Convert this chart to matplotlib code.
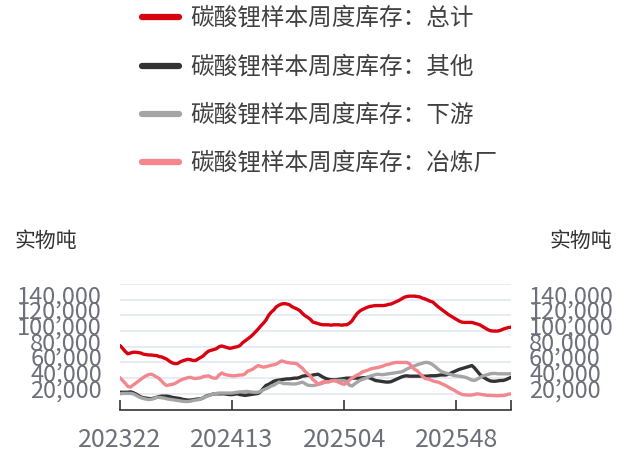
import matplotlib
matplotlib.use("Agg")
import matplotlib.pyplot as plt
import matplotlib.transforms as mtransforms
from matplotlib.lines import Line2D
import numpy as np

plt.rcParams['font.family'] = ['Noto Sans CJK SC', 'DejaVu Sans']

# ---------------- data (thousand tonnes -> tonnes) ----------------
series_names = ["碳酸锂样本周度库存：总计", "碳酸锂样本周度库存：其他",
                "碳酸锂样本周度库存：下游", "碳酸锂样本周度库存：冶炼厂"]
series_colors = ["#D9000F", "#333333", "#A5A5A5", "#F4878E"]

total = [81.5, 78, 74, 71, 72, 73, 73, 72.5, 72, 70.5, 70, 69.5, 69.5, 69, 68.8, 67.5, 67, 65.5, 64, 61.5,
         59.5, 58.5, 58.5, 60.5, 62, 63, 64, 63.5, 62.5, 62.5, 64.5, 66.5, 68.5, 72, 74.5, 75.5, 76.5, 77.5, 80, 81,
         80, 79, 78, 78.5, 79.5, 80, 81.5, 85, 87.5, 90, 92.5, 95.5, 99, 102.5, 106.5, 110, 114, 120, 124, 127,
         131, 133, 134.5, 135, 134.5, 133.5, 131, 129.5, 128, 126, 122.5, 119.5, 117.5, 115, 111.5, 110.5, 109.5, 108.5, 108, 108,
         108, 107.5, 108, 108, 108, 107.5, 108, 108, 110, 113, 118, 122.5, 125.5, 127.5, 129, 130.5, 131.5, 132, 132.5, 132.5,
         132.5, 132.5, 133, 134, 134.5, 136, 137.5, 139, 141, 143, 144, 144.5, 144.5, 144.5, 144, 143.5, 142, 141, 139.5, 138,
         137, 134, 131, 128.5, 126, 123.5, 121, 119, 117, 115, 113, 111.5, 111, 111, 111, 111, 110, 109, 108, 106,
         104, 102, 100.6, 100, 100, 100, 101, 102.5, 103.5, 104.5, 105]

other = [22, 22, 22, 22, 22.5, 21.5, 20, 18, 16, 15, 14.5, 14, 13.8, 14.5, 15.5, 16.5, 17, 17, 17, 16.5,
         15.5, 15, 14.5, 14, 13, 12.5, 12, 12, 12.5, 13, 13.5, 13.6, 15, 17, 18, 19, 20, 20, 20, 20,
         20, 19.5, 19, 19, 19.5, 20, 19, 18.5, 18, 18.5, 19, 19.5, 20, 20.5, 23, 27, 30.6, 32, 34, 36,
         37, 37.5, 38, 38.5, 39, 39, 39.5, 40, 40, 41, 42.5, 43, 43.5, 43, 44, 44.5, 45, 43, 41, 39.5,
         38.5, 38, 38, 38, 38.5, 39, 39.5, 40, 40, 40, 40, 40, 40, 40.5, 40.5, 41, 40, 38.5, 37, 36.5,
         36, 35.5, 35, 35, 35.5, 37, 38.5, 40, 41.5, 42.5, 43, 42.5, 42.5, 42.5, 42.5, 42.5, 42.5, 42.5, 42.5, 43,
         43, 43, 43.5, 44, 44, 44, 45, 46.5, 48, 49.5, 51, 52, 53, 54, 55, 56, 53, 49, 45, 42,
         40, 38, 36.5, 36, 36, 36.5, 37, 37, 38, 39.5, 41]

downstream = [20, 20.5, 20.5, 20.5, 20.5, 20, 18.5, 16.5, 15, 14, 13.2, 12.7, 13, 14, 15.5, 15.5, 15, 14.5, 13.6, 13,
              12.5, 12, 11.5, 11, 10.5, 10.2, 10.2, 10.5, 11.5, 12, 12.5, 13.5, 15, 16.5, 17.5, 19, 20, 20.5, 21, 21,
              21, 21, 21, 21, 21.5, 22, 22.5, 22.5, 23, 23, 22.5, 22, 22, 22, 23.5, 25, 26.5, 28, 30, 31,
              33, 35, 34, 33, 33, 32.7, 32.5, 32.5, 33, 34, 35, 33, 31, 30.6, 30.6, 31, 32, 32.7, 34, 35,
              35.5, 36, 37, 37, 37, 37, 37, 35, 31, 30, 32.5, 35, 37, 38.5, 39.5, 41, 42.5, 43.5, 44.5, 45,
              44.5, 44.5, 45, 45.5, 46, 46.5, 47, 47.5, 48, 49.5, 51.5, 53, 54.5, 55.5, 57, 58, 59, 60, 60, 59,
              57, 54.5, 51.5, 49, 47.5, 46.5, 45.5, 44.5, 43.5, 43, 42.5, 42, 41.5, 40.5, 39, 37.5, 37, 38.5, 40.5, 42.5,
              43.5, 44.5, 45.5, 46, 46, 45.5, 45.5, 45.5, 45.5, 45.5, 45.5]

smelter = [40.5, 37, 33.5, 29.5, 28.5, 31, 33.5, 36, 38.5, 41, 43, 44.5, 45, 43.5, 41.5, 39.5, 36, 32.5, 30.5, 31.5,
           32, 33, 35, 37, 38.5, 39.5, 40.5, 41, 40, 39.5, 40, 40.5, 42, 42.5, 43, 41, 40, 40, 44, 46.5,
           45, 44, 43.5, 43, 43, 43.5, 44, 44, 45.5, 49, 50, 51.5, 54, 56, 55, 54, 54.5, 55.5, 56.5, 57,
           58, 60, 62, 61, 60, 59.5, 59, 59, 58, 55, 52.5, 48.5, 45.5, 43, 38, 35.5, 32, 34, 35.5, 35.5,
           35, 36.5, 37, 36, 34.5, 33, 32, 34, 37.5, 40, 42, 44, 45.5, 48, 49, 50, 51.5, 52.5, 53, 53.5,
           54.5, 55.5, 57, 57.5, 58.5, 59.5, 60, 60, 60, 60, 60, 58.5, 55, 51, 49.5, 46, 42.5, 39.5, 39, 38,
           36.5, 35.5, 35, 33.5, 32, 30.5, 28.5, 26.5, 25, 23, 21, 19.5, 18.7, 18.5, 18.3, 18.5, 19.3, 20, 19.5, 19,
           18.5, 18, 18, 17.8, 17.5, 17.5, 17.8, 17.8, 18.5, 19.5, 20]

x_tick_labels = ["202322", "202413", "202504", "202548"]
x_tick_index = [0, 43, 86, 129]
y_ticks = [20000, 40000, 60000, 80000, 100000, 120000, 140000, 160000]
y_tick_labels = ["20,000", "40,000", "60,000", "80,000", "100,000", "120,000", "140,000", ""]
unit_label = "实物吨"

# ---------------- figure ----------------
W, H = 625, 452
fig = plt.figure(figsize=(W / 100, H / 100), dpi=100)
ax = fig.add_axes([120 / W, 1 - 410.5 / H, (511 - 120) / W, (410.5 - 285) / H])

all_series = [total, other, downstream, smelter]
n = len(total)
x = np.arange(n)
for vals, col in zip(all_series, series_colors):
    ax.plot(x, np.array(vals) * 1000, color=col, lw=2.4, solid_joinstyle='round',
            solid_capstyle='round', zorder=3)

ax.set_xlim(0, n - 1)
ax.set_ylim(0, 160000)

ax.set_yticks(y_ticks)
ax.set_yticklabels(y_tick_labels)
ax.yaxis.grid(True, color="#E0E6F1", lw=1.1)
ax.set_axisbelow(True)
ax.tick_params(axis='y', length=0, labelsize=17, labelcolor="#6E7079",
               left=False, right=False, labelleft=True, labelright=True, pad=13)

ax.set_xticks(x_tick_index + [n - 1])
ax.set_xticklabels(x_tick_labels + [""])
ax.tick_params(axis='x', direction='in', length=7, width=1.2, color="#333333",
               labelsize=18, labelcolor="#6E7079", pad=12)

# y labels sit on their grid line, slightly lowered
shift = mtransforms.ScaledTranslation(0, -2.5 / 100, fig.dpi_scale_trans)
for tk in ax.yaxis.get_major_ticks():
    for lab in (tk.label1, tk.label2):
        lab.set_va('baseline')
        lab.set_transform(lab.get_transform() + shift)

for s in ['top', 'left', 'right']:
    ax.spines[s].set_visible(False)
ax.spines['bottom'].set_color("#333333")
ax.spines['bottom'].set_linewidth(1.2)

# unit labels
fig.text(14 / W, 1 - 241 / H, unit_label, fontsize=15, color="#333333", ha='left', va='center')
fig.text(612 / W, 1 - 241 / H, unit_label, fontsize=15, color="#333333", ha='right', va='center')

# legend (manual, vertical)
legend_y = [18, 67, 115, 163]
for name, col, yy in zip(series_names, series_colors, legend_y):
    fy = 1 - yy / H
    fig.add_artist(Line2D([142 / W, 179 / W], [fy, fy], transform=fig.transFigure,
                          color=col, lw=4.5, solid_capstyle='round'))
    fig.text(190 / W, fy, name, fontsize=17, color="#404040", ha='left', va='center')

fig.savefig("out.png", dpi=100)
